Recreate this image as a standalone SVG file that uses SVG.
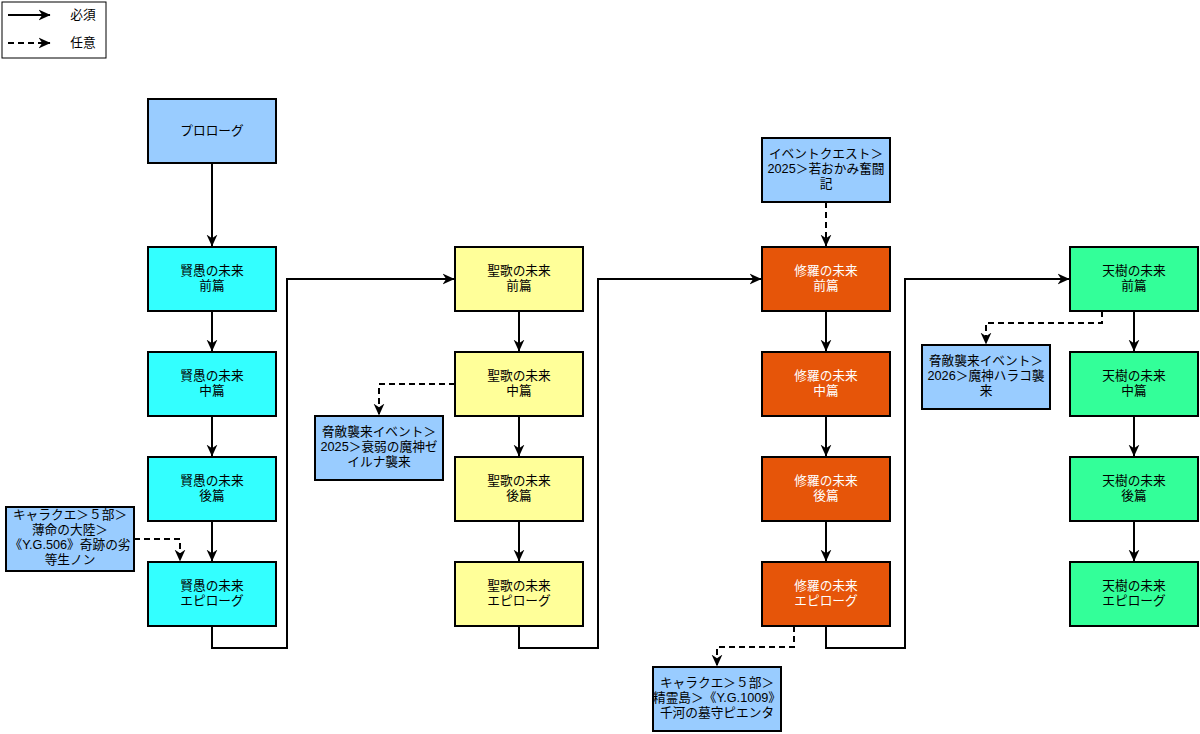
<svg xmlns="http://www.w3.org/2000/svg" width="1200" height="734" viewBox="0 0 1200 734">
<defs>
<marker id="arr" viewBox="0 0 10 10" refX="9.5" refY="5" markerWidth="12" markerHeight="12" markerUnits="userSpaceOnUse" orient="auto">
<path d="M0,0.5 L10,5 L0,9.5 L3,5 Z" fill="#000"/>
</marker>
<style>
.n{stroke:#000;stroke-width:2}
.blue{fill:#99CCFF}.cyan{fill:#33FFFF}.yel{fill:#FFFF99}.org{fill:#E65509}.grn{fill:#33FF99}
text{font-family:"Liberation Sans","Noto Sans CJK JP",sans-serif;font-size:12.7px;text-anchor:middle;fill:#000}
.w{fill:#fff}
.c{fill:none;stroke:#000;stroke-width:2}
.d{stroke-dasharray:6 4}
</style>
</defs>
<rect width="1200" height="734" fill="#fff"/>
<g id="legend">
<rect x="2" y="2" width="104" height="56" fill="#fff" stroke="#000" stroke-width="1"/>
<path class="c" d="M8,15 L50,15" marker-end="url(#arr)"/>
<path class="c d" d="M8,43 L50,43" marker-end="url(#arr)"/>
<text x="83" y="19">必須</text>
<text x="83" y="47">任意</text>
</g>
<g id="connectors">
<path class="c" d="M212,163 L212,246" marker-end="url(#arr)"/>
<path class="c" d="M212,311 L212,351" marker-end="url(#arr)"/>
<path class="c" d="M212,416 L212,456" marker-end="url(#arr)"/>
<path class="c" d="M212,521 L212,561" marker-end="url(#arr)"/>
<path class="c" d="M519,311 L519,351" marker-end="url(#arr)"/>
<path class="c" d="M519,416 L519,456" marker-end="url(#arr)"/>
<path class="c" d="M519,521 L519,561" marker-end="url(#arr)"/>
<path class="c" d="M826,311 L826,351" marker-end="url(#arr)"/>
<path class="c" d="M826,416 L826,456" marker-end="url(#arr)"/>
<path class="c" d="M826,521 L826,561" marker-end="url(#arr)"/>
<path class="c" d="M1134,311 L1134,351" marker-end="url(#arr)"/>
<path class="c" d="M1134,416 L1134,456" marker-end="url(#arr)"/>
<path class="c" d="M1134,521 L1134,561" marker-end="url(#arr)"/>
<path class="c" d="M212,626 L212,648 L287,648 L287,279 L454,279" marker-end="url(#arr)"/>
<path class="c" d="M519,626 L519,648 L598,648 L598,279 L761,279" marker-end="url(#arr)"/>
<path class="c" d="M826,626 L826,648 L905,648 L905,279 L1069,279" marker-end="url(#arr)"/>
<path class="c d" d="M134,539 L180,539 L180,561" marker-end="url(#arr)"/>
<path class="c d" d="M455,384 L379,384 L379,415" marker-end="url(#arr)"/>
<path class="c d" d="M826,202 L826,246" marker-end="url(#arr)"/>
<path class="c d" d="M794,626 L794,647 L717,647 L717,666" marker-end="url(#arr)"/>
<path class="c d" d="M1102,311 L1102,323 L986,323 L986,344" marker-end="url(#arr)"/>
</g>
<g id="prologue"><rect class="n blue" x="148" y="99" width="128" height="64"/><text x="212" y="135">プロローグ</text></g>
<g id="kengu1"><rect class="n cyan" x="148" y="247" width="128" height="64"/><text x="212" y="275">賢愚の未来</text><text x="212" y="290">前篇</text></g>
<g id="kengu2"><rect class="n cyan" x="148" y="352" width="128" height="64"/><text x="212" y="380">賢愚の未来</text><text x="212" y="395">中篇</text></g>
<g id="kengu3"><rect class="n cyan" x="148" y="457" width="128" height="64"/><text x="212" y="485">賢愚の未来</text><text x="212" y="500">後篇</text></g>
<g id="kengu4"><rect class="n cyan" x="148" y="562" width="128" height="64"/><text x="212" y="590">賢愚の未来</text><text x="212" y="605">エピローグ</text></g>
<g id="seika1"><rect class="n yel" x="455" y="247" width="128" height="64"/><text x="519" y="275">聖歌の未来</text><text x="519" y="290">前篇</text></g>
<g id="seika2"><rect class="n yel" x="455" y="352" width="128" height="64"/><text x="519" y="380">聖歌の未来</text><text x="519" y="395">中篇</text></g>
<g id="seika3"><rect class="n yel" x="455" y="457" width="128" height="64"/><text x="519" y="485">聖歌の未来</text><text x="519" y="500">後篇</text></g>
<g id="seika4"><rect class="n yel" x="455" y="562" width="128" height="64"/><text x="519" y="590">聖歌の未来</text><text x="519" y="605">エピローグ</text></g>
<g id="shura1"><rect class="n org" x="762" y="247" width="128" height="64"/><text class="w" x="826" y="275">修羅の未来</text><text class="w" x="826" y="290">前篇</text></g>
<g id="shura2"><rect class="n org" x="762" y="352" width="128" height="64"/><text class="w" x="826" y="380">修羅の未来</text><text class="w" x="826" y="395">中篇</text></g>
<g id="shura3"><rect class="n org" x="762" y="457" width="128" height="64"/><text class="w" x="826" y="485">修羅の未来</text><text class="w" x="826" y="500">後篇</text></g>
<g id="shura4"><rect class="n org" x="762" y="562" width="128" height="64"/><text class="w" x="826" y="590">修羅の未来</text><text class="w" x="826" y="605">エピローグ</text></g>
<g id="tenju1"><rect class="n grn" x="1070" y="247" width="128" height="64"/><text x="1134" y="275">天樹の未来</text><text x="1134" y="290">前篇</text></g>
<g id="tenju2"><rect class="n grn" x="1070" y="352" width="128" height="64"/><text x="1134" y="380">天樹の未来</text><text x="1134" y="395">中篇</text></g>
<g id="tenju3"><rect class="n grn" x="1070" y="457" width="128" height="64"/><text x="1134" y="485">天樹の未来</text><text x="1134" y="500">後篇</text></g>
<g id="tenju4"><rect class="n grn" x="1070" y="562" width="128" height="64"/><text x="1134" y="590">天樹の未来</text><text x="1134" y="605">エピローグ</text></g>
<g id="chara1"><rect class="n blue" x="6" y="507" width="128" height="64"/><text x="70" y="519">キャラクエ＞５部＞</text><text x="70" y="534">薄命の大陸＞</text><text x="70" y="549">《Y.G.506》奇跡の劣</text><text x="70" y="564">等生ノン</text></g>
<g id="kyoteki2025"><rect class="n blue" x="315" y="416" width="128" height="64"/><text x="379" y="436">脅敵襲来イベント＞</text><text x="379" y="451">2025＞衰弱の魔神ゼ</text><text x="379" y="466">イルナ襲来</text></g>
<g id="event"><rect class="n blue" x="762" y="138" width="128" height="64"/><text x="826" y="158">イベントクエスト＞</text><text x="826" y="173">2025＞若おかみ奮闘</text><text x="826" y="188">記</text></g>
<g id="chara2"><rect class="n blue" x="653" y="667" width="128" height="64"/><text x="717" y="687">キャラクエ＞５部＞</text><text x="717" y="702">精霊島＞《Y.G.1009》</text><text x="717" y="717">千河の墓守ピエンタ</text></g>
<g id="kyoteki2026"><rect class="n blue" x="922" y="345" width="128" height="64"/><text x="986" y="365">脅敵襲来イベント＞</text><text x="986" y="380">2026＞魔神ハラコ襲</text><text x="986" y="395">来</text></g>
</svg>
